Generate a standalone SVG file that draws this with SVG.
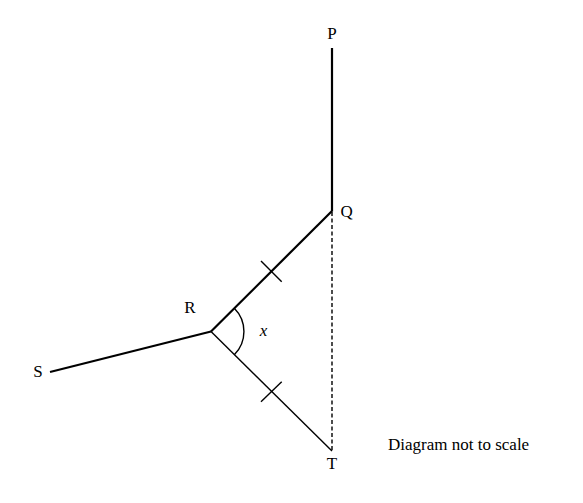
<svg xmlns="http://www.w3.org/2000/svg" width="583" height="503" viewBox="0 0 583 503">
<style>
.lbl{font-family:"Liberation Serif","Times New Roman",serif;font-size:17px;fill:#000}
.thick{stroke:#000;stroke-width:2.2;fill:none}
.thin{stroke:#000;stroke-width:1.4;fill:none}
</style>
<rect width="583" height="503" fill="#fff"/>
<g id="connectors">
<line class="thick" x1="332" y1="48" x2="332" y2="211.5"/>
<line class="thick" x1="332" y1="211" x2="211" y2="331.5"/>
<line class="thick" x1="211" y1="331.5" x2="50" y2="372"/>
<line class="thin" x1="211" y1="331.5" x2="332" y2="451"/>
<line class="thin" x1="332" y1="212" x2="332" y2="451" stroke-dasharray="4,2.5"/>
<line class="thin" x1="261" y1="261" x2="281.7" y2="281.7"/>
<line class="thin" x1="261" y1="401.7" x2="281.7" y2="381.7"/>
<path class="thin" d="M 234.3 308.2 A 33 33 0 0 1 234.3 354.8"/>
</g>
<g id="P"><text class="lbl" x="332" y="38.5" text-anchor="middle">P</text></g>
<g id="Q"><text class="lbl" x="340.5" y="216.5">Q</text></g>
<g id="R"><text class="lbl" x="190" y="313" text-anchor="middle">R</text></g>
<g id="S"><text class="lbl" x="38" y="377" text-anchor="middle">S</text></g>
<g id="T"><text class="lbl" x="332" y="468.5" text-anchor="middle">T</text></g>
<g id="angle-x"><text class="lbl" x="263.5" y="336" text-anchor="middle" font-style="italic">x</text></g>
<g id="note"><text class="lbl" x="388" y="450">Diagram not to scale</text></g>
</svg>
